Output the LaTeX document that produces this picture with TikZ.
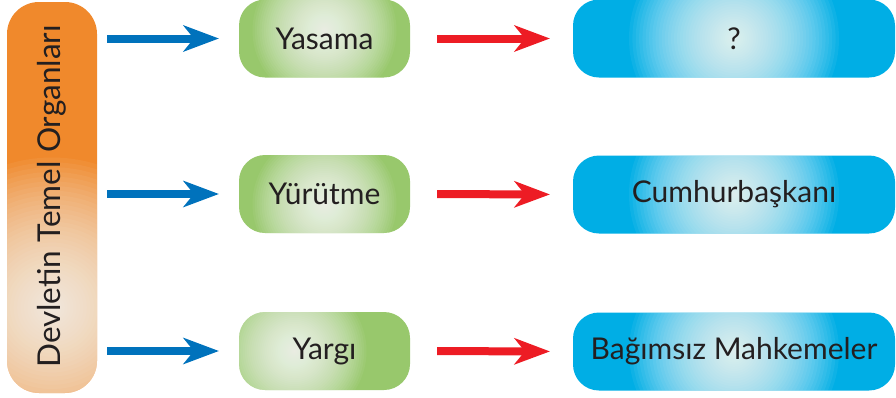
\documentclass[tikz,border=0pt]{standalone}
\usepackage{fontspec}
\setmainfont{Lato}
\usetikzlibrary{arrows.meta}
\definecolor{orangeC}{RGB}{240,137,44}
\definecolor{greenC}{RGB}{152,200,108}
\definecolor{blueC}{RGB}{0,174,229}
\definecolor{arrowBlue}{RGB}{0,114,188}
\definecolor{arrowRed}{RGB}{237,28,36}
\definecolor{txt}{RGB}{35,31,32}
\newcommand{\glowstack}[3]{% center shift, radius, opacity
  \foreach \gi in {1,...,40}{
    \pgfmathsetmacro{\gr}{#2*(\gi/40)^1.3}
    \fill[white, fill opacity=#3]
      ([shift={(#1)}]path picture bounding box.center) circle ({\gr pt});
  }}
\begin{document}
\begin{tikzpicture}[x=1pt,y=-1pt,
  box/.style={rounded corners=26pt, draw=none, inner sep=0pt,
    minimum height=78pt, font=\fontsize{30}{34}\selectfont, text=txt},
  gbox/.style={box, fill=greenC, minimum width=171pt,
    path picture={\glowstack{#1}{72}{0.05}}},
  bbox/.style={box, fill=blueC, minimum width=322pt,
    path picture={\glowstack{#1}{105}{0.055}}},
  obox/.style={rounded corners=32pt, draw=none, inner sep=0pt, fill=orangeC,
    minimum width=90pt, minimum height=391pt,
    path picture={\glowstack{0,110}{150}{0.05}}},
  flow/.style={line width=8pt,
    -{Stealth[length=36pt,width=27pt,inset=11pt,line width=0pt]}},
  bluearrow/.style={flow, draw=arrowBlue, shorten <=10pt, shorten >=20pt},
  redarrow/.style={flow, draw=arrowRed, shorten <=27pt, shorten >=23pt},
  vlabel/.style={rotate=90, font=\fontsize{31.5}{36}\selectfont, text=txt, inner sep=0pt}
]
\useasboundingbox (0,0) rectangle (896,397);

\node[obox] (org) at (52,197.5) {};
\node[vlabel] (orgtext) at (52,196.5) {Devletin Temel Organları};

\node[gbox={0,-8}] (g1) at (324.5,38.5) {Yasama};
\node[gbox={0,10}] (g2) at (324.5,194) {Yürütme};
\node[gbox={-30,0}] (g3) at (324.5,351) {Yargı};

\node[bbox={0,0}] (b1) at (734,38.5) {?};
\node[bbox={0,0}] (b2) at (734,194.5) {Cumhurbaşkanı};
\node[bbox={0,0}] (b3) at (734,351.5) {Bağımsız Mahkemeler};

\draw[bluearrow] (org.east |- g1.west) -- (g1.west);
\draw[bluearrow] (org.east |- g2.west) -- (g2.west);
\draw[bluearrow] (org.east |- g3.west) -- (g3.west);

\draw[redarrow] (g1.east) -- (b1.west);
\draw[redarrow] (g2.east) -- (b2.west);
\draw[redarrow] (g3.east) -- (b3.west);
\end{tikzpicture}
\end{document}
